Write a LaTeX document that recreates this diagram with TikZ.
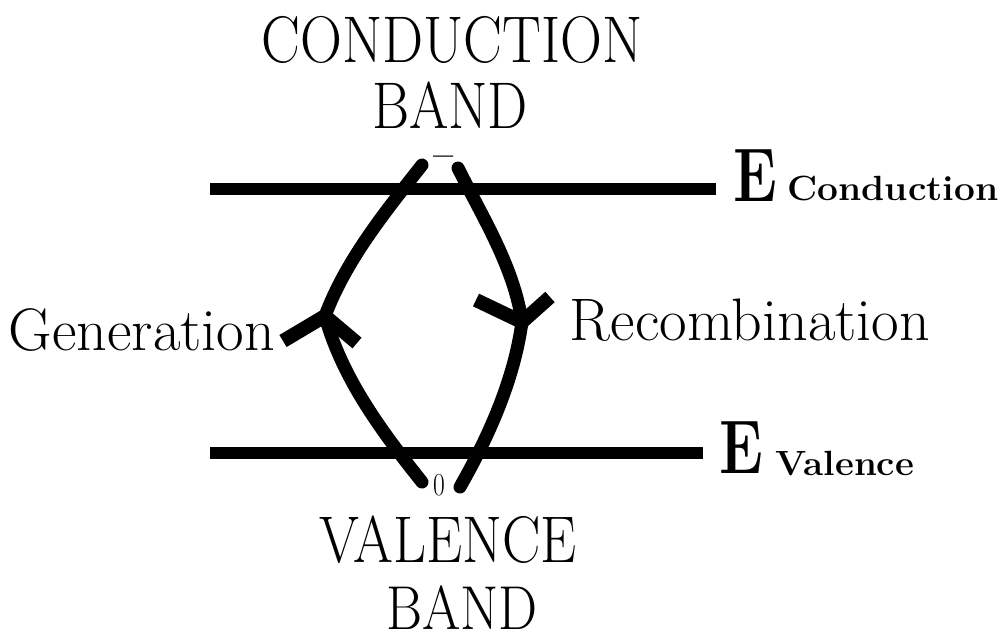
\documentclass[tikz,border=0pt]{standalone}
\usepackage{graphicx}
\newcommand{\squeeze}[2]{\scalebox{#1}[1]{#2}}

\begin{document}
\begin{tikzpicture}[x=1pt,y=-1pt,
    band/.style={line width=12pt},
    trans/.style={line width=13pt,line cap=round},
    barb/.style={line width=14pt},
    caps/.style={anchor=base,inner sep=0pt,font=\fontsize{66}{70}\selectfont},
    lbl/.style={anchor=base,inner sep=0pt,font=\fontsize{60}{64}\selectfont},
    ebig/.style={anchor=base,inner sep=0pt,font=\fontsize{76}{80}\selectfont\bfseries},
    esub/.style={anchor=base,inner sep=0pt,font=\fontsize{35}{40}\selectfont\bfseries}]
  \useasboundingbox (0,0) rectangle (1005,641);

  \node[caps] (cbtop) at (452,62) {\squeeze{0.88}{CONDUCTION}};
  \node[caps] (cbbot) at (450,128) {\squeeze{0.86}{BAND}};
  \node[caps] (vbtop) at (448,562) {\squeeze{0.87}{VALENCE}};
  \node[caps,font=\fontsize{62}{66}\selectfont] (vbbot) at (462,629) {\squeeze{0.89}{BAND}};
  \node[lbl] (gen) at (142,350) {Generation};
  \node[lbl] (rec) at (750,340) {Recombination};
  \node[ebig] (ec) at (755,201) {\squeeze{0.78}{E}};
  \node[esub] (ecsub) at (893,200) {\squeeze{1.06}{Conduction}};
  \node[ebig] (ev) at (741,473) {\squeeze{0.78}{E}};
  \node[esub] (evsub) at (845,475) {\squeeze{1.05}{Valence}};
  \node[inner sep=0pt,font=\fontsize{36}{36}\selectfont\bfseries] (elec) at (444,161) {--};
  \node[inner sep=0pt,font=\fontsize{32}{32}\selectfont] (hole) at (439,485) {\squeeze{0.8}{0}};

  \coordinate (cl) at (210,189);
  \coordinate (cr) at (716,189);
  \coordinate (vl) at (210,452.5);
  \coordinate (vr) at (703,452.5);
  \draw[band] (cl) -- (cr);
  \draw[band] (vl) -- (vr);

  \coordinate (gb) at (422,482);
  \coordinate (gm) at (325,316);
  \coordinate (gt) at (422,165);
  \coordinate (gbl) at (283,341);
  \coordinate (gbr) at (357,343);
  \coordinate (rt) at (458,168);
  \coordinate (rm) at (522,322);
  \coordinate (rb) at (460,487);
  \coordinate (rbl) at (476,300);
  \coordinate (rbr) at (550,297);
  \draw[trans] (gb) .. controls (382,432) and (342,378) .. (gm)
    .. controls (346,260) and (385,212) .. (gt);
  \draw[trans] (rt) .. controls (483,218) and (514,267) .. (rm)
    .. controls (514,380) and (489,436) .. (rb);
  \draw[barb] (gm) -- (gbl);
  \draw[barb] (gm) -- (gbr);
  \draw[barb] (rm) -- (rbl);
  \draw[barb] (rm) -- (rbr);
\end{tikzpicture}
\end{document}
